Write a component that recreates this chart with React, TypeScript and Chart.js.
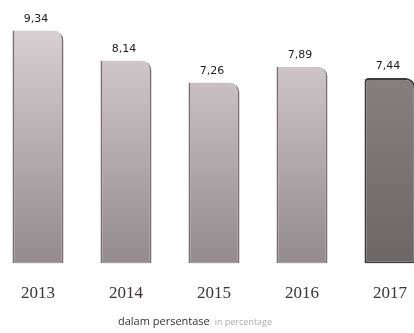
import React, { useEffect, useRef } from "react";
import { Chart, registerables } from "chart.js";

Chart.register(...registerables);

const years = ["2013", "2014", "2015", "2016", "2017"];
const values = [9.34, 8.14, 7.26, 7.89, 7.44];
const valueLabels = ["9,34", "8,14", "7,26", "7,89", "7,44"];
const footerMain = "dalam persentase";
const footerSub = "in percentage";

export default function App() {
  const ref = useRef<HTMLCanvasElement | null>(null);

  useEffect(() => {
    if (!ref.current) return;
    const makeGrad = (ctx: any, area: any, dark: boolean) => {
      const g = ctx.createLinearGradient(0, area.top, 0, area.bottom);
      if (dark) {
        g.addColorStop(0, "#8e8888");
        g.addColorStop(1, "#6c6666");
      } else {
        g.addColorStop(0, "#dcd4d6");
        g.addColorStop(0.5, "#b7afb1");
        g.addColorStop(1, "#928a8c");
      }
      return g;
    };

    const labelPlugin = {
      id: "valueLabels",
      afterDatasetsDraw(chart: any) {
        const { ctx } = chart;
        const meta = chart.getDatasetMeta(0);
        ctx.save();
        ctx.font = "11px 'DejaVu Sans', sans-serif";
        ctx.fillStyle = "#222";
        ctx.textAlign = "center";
        ctx.textBaseline = "bottom";
        meta.data.forEach((bar: any, i: number) => {
          ctx.fillText(valueLabels[i], bar.x - 2, bar.y - 6);
        });
        ctx.restore();
      },
    };

    const footerPlugin = {
      id: "footer",
      afterDraw(chart: any) {
        const { ctx } = chart;
        ctx.save();
        ctx.textBaseline = "middle";
        ctx.textAlign = "left";
        const x = 124;
        ctx.font = "11px 'Open Sans', sans-serif";
        const w1 = ctx.measureText(footerMain + " ").width;
        ctx.fillStyle = "#333";
        ctx.fillText(footerMain + " ", x, 322);
        ctx.font = "9px 'Open Sans', sans-serif";
        ctx.fillStyle = "#b0aaaa";
        ctx.fillText(footerSub, x + w1 + 2, 322);
        ctx.restore();
      },
    };

    const chart = new Chart(ref.current, {
      type: "bar",
      data: {
        labels: years,
        datasets: [
          {
            data: values,
            backgroundColor: (c: any) => {
              const area = c.chart.chartArea;
              if (!area) return "#bbb";
              return makeGrad(c.chart.ctx, area, c.dataIndex === 4);
            },
            borderColor: (c: any) => (c.dataIndex === 4 ? "#3e3838" : "#7a7070"),
            borderWidth: (c: any) => (c.dataIndex === 4 ? 2 : { left: 2, right: 2, top: 0, bottom: 1 }),
            borderSkipped: false,
            borderRadius: (c: any) =>
              c.dataIndex === 4
                ? { topLeft: 4, topRight: 10, bottomLeft: 0, bottomRight: 0 }
                : { topLeft: 0, topRight: 10, bottomLeft: 0, bottomRight: 0 },
            barPercentage: 0.58,
            categoryPercentage: 1,
          },
        ],
      },
      options: {
        animation: false,
        responsive: false,
        maintainAspectRatio: false,
        layout: { padding: { top: 14, bottom: 9, left: 0, right: 0 } },
        plugins: {
          legend: { display: false },
          tooltip: { enabled: false },
          title: { display: false },
        },
        scales: {
          x: {
            grid: { display: false, drawTicks: false },
            border: { display: false },
            ticks: {
              padding: 20,
              color: "#3a3434",
              font: { family: "'Liberation Serif', 'DejaVu Serif', serif", size: 17 },
            },
          },
          y: {
            display: false,
            min: 0,
            max: 10,
          },
        },
      },
      plugins: [labelPlugin, footerPlugin],
    });
    return () => chart.destroy();
  }, []);

  return (
    <div style={{ position: "fixed", left: 0, top: 0, width: 414, height: 333, overflow: "hidden", background: "#fff" }}>
      <canvas
        ref={ref}
        width={440}
        height={333}
        style={{ position: "absolute", left: -6, top: 0, width: 440, height: 333 }}
      />
    </div>
  );
}
